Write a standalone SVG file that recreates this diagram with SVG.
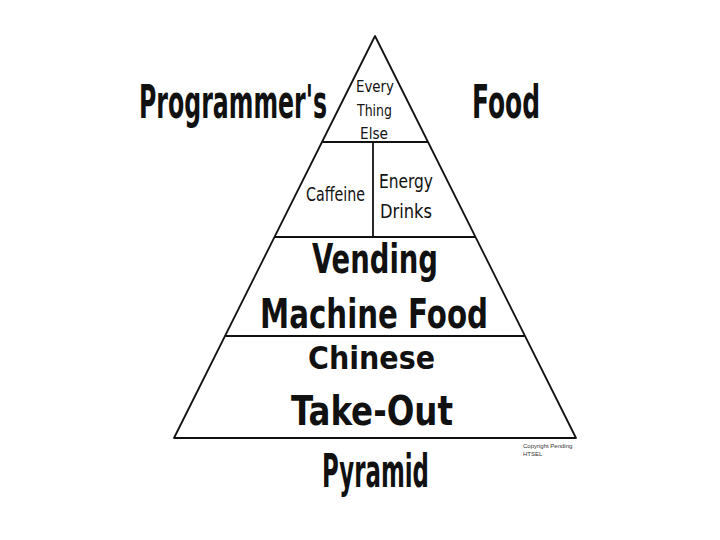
<svg xmlns="http://www.w3.org/2000/svg" width="720" height="540" viewBox="0 0 720 540">
<style>
.ln{stroke:#111;stroke-width:1.8;fill:none;stroke-linecap:round;stroke-linejoin:round}
.t{font-family:"DejaVu Sans Condensed","DejaVu Sans",sans-serif;font-weight:bold;fill:#111}
.big{font-size:41px}
.sm{font-size:15px;font-weight:normal}
.md{font-size:19px;font-weight:normal}
.cp{font-family:"Liberation Sans",Arial,sans-serif;font-size:6px;fill:#333}
</style>
<rect width="720" height="540" fill="#fff"/>
<g id="pyramid">
<path class="ln" d="M375,36 L174,438 L576,438 Z"/>
<line class="ln" x1="323" y1="142" x2="427" y2="142"/>
<line class="ln" x1="275" y1="237" x2="475" y2="237"/>
<line class="ln" x1="226" y1="336" x2="524" y2="336"/>
<line class="ln" x1="373" y1="142" x2="373" y2="237"/>
</g>
<g id="title">
<text class="t" x="0" y="0" font-size="46" transform="translate(139,118) scale(0.57,1)" textLength="330" lengthAdjust="spacingAndGlyphs">Programmer's</text>
<text class="t" x="472" y="118" font-size="46" textLength="68" lengthAdjust="spacingAndGlyphs">Food</text>
<text class="t" x="322" y="487" font-size="46" textLength="107" lengthAdjust="spacingAndGlyphs">Pyramid</text>
</g>
<g id="tier-everything">
<text class="t sm" x="356" y="92" textLength="38" lengthAdjust="spacingAndGlyphs">Every</text>
<text class="t sm" x="357" y="116" textLength="35" lengthAdjust="spacingAndGlyphs">Thing</text>
<text class="t sm" x="360" y="139" textLength="28" lengthAdjust="spacingAndGlyphs">Else</text>
</g>
<g id="tier-caffeine">
<text class="t md" x="306" y="201" textLength="59" lengthAdjust="spacingAndGlyphs">Caffeine</text>
</g>
<g id="tier-energy">
<text class="t md" x="379" y="188" textLength="54" lengthAdjust="spacingAndGlyphs">Energy</text>
<text class="t md" x="380" y="218" textLength="52" lengthAdjust="spacingAndGlyphs">Drinks</text>
</g>
<g id="tier-vending">
<text class="t big" x="312" y="273" textLength="126" lengthAdjust="spacingAndGlyphs">Vending</text>
<text class="t" x="260" y="328" font-size="40" textLength="228" lengthAdjust="spacingAndGlyphs">Machine Food</text>
</g>
<g id="tier-chinese">
<text class="t" x="308" y="369" font-size="32" textLength="127" lengthAdjust="spacingAndGlyphs">Chinese</text>
<text class="t big" x="291" y="425" textLength="162" lengthAdjust="spacingAndGlyphs">Take-Out</text>
</g>
<g id="copyright">
<text class="cp" x="523" y="448">Copyright Pending</text>
<text class="cp" x="523" y="456">HTSEL</text>
</g>
</svg>
